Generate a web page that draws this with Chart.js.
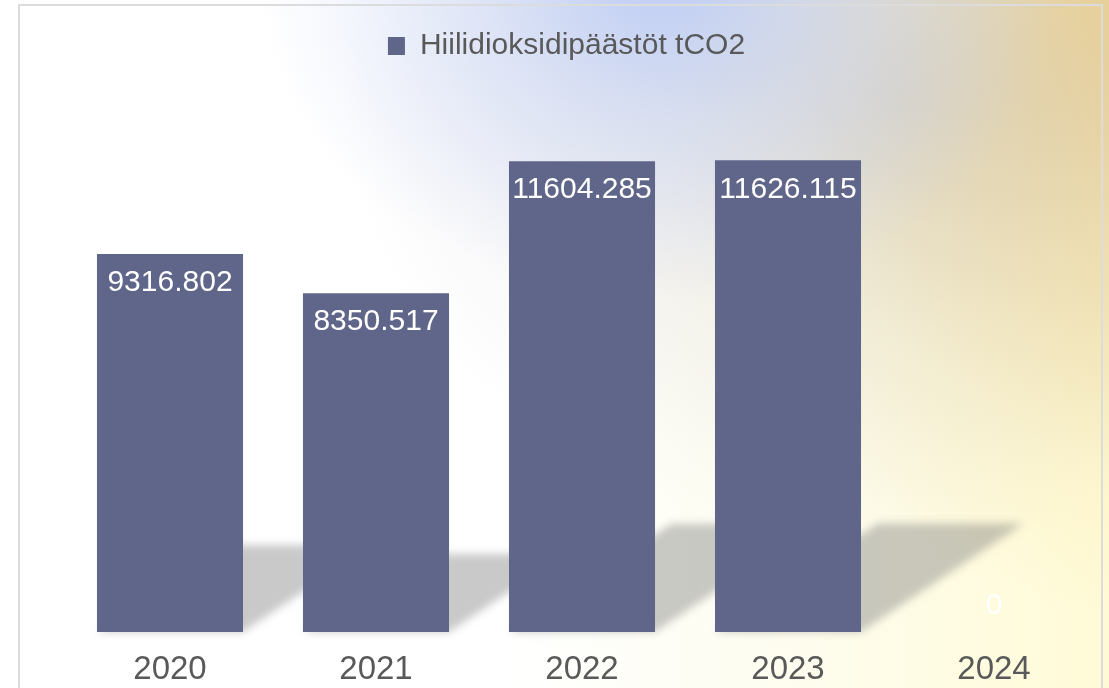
<!DOCTYPE html>
<html>
<head>
<meta charset="utf-8">
<script src="https://cdn.jsdelivr.net/npm/chart.js@4/dist/chart.umd.min.js"></script>
<style>
  html, body { margin: 0; padding: 0; }
  body {
    width: 1109px; height: 688px; overflow: hidden; position: relative;
    background:
      radial-gradient(ellipse 400px 320px at 660px -20px, rgba(188,204,245,0.95) 0%, rgba(200,212,245,0.55) 45%, rgba(210,220,245,0) 100%),
      radial-gradient(ellipse 560px 440px at 900px 100px, rgba(196,192,198,0.55) 0%, rgba(210,205,208,0.28) 50%, rgba(220,215,210,0) 100%),
      radial-gradient(ellipse 480px 620px at 1150px 0px, rgba(242,206,120,1) 0%, rgba(246,222,150,0.8) 40%, rgba(250,238,185,0.4) 75%, rgba(255,250,220,0) 100%),
      linear-gradient(to right, #ffffff 0%, #ffffff 45%, #fefdf0 70%, #fffad6 100%);
  }
  #wrap { position: absolute; left: 0; top: 0; width: 1109px; height: 688px; }
  #frame {
    position: absolute; left: 18px; top: 4px; width: 1085px; height: 720px;
    border: 2px solid #dcdcdc; box-sizing: border-box; pointer-events: none;
  }
</style>
</head>
<body>
<div id="frame"></div>
<div id="wrap"><canvas id="c" width="1109" height="688"></canvas></div>
<script>
const categories = ["2020", "2021", "2022", "2023", "2024"];
const seriesName = "Hiilidioksidipäästöt tCO2";
const values = [9316.802, 8350.517, 11604.285, 11626.115, 0];
const Y_MAX = 14000;

const BAR_COLOR = "#5f6689";
const TEXT_COLOR = "#595959";
const FONT = "'Liberation Sans', Arial, sans-serif";

const shadowPlugin = {
  id: 'perspectiveShadow',
  beforeDatasetsDraw(chart) {
    const ctx = chart.ctx;
    const meta = chart.getDatasetMeta(0);
    ctx.save();
    ctx.filter = 'blur(4px)';
    ctx.fillStyle = 'rgba(120,120,120,0.40)';
    meta.data.forEach(bar => {
      const H = bar.base - bar.y;
      if (H <= 0) return;
      const h = 0.23 * H, dx = 0.345 * H;
      const l = bar.x - bar.width / 2, r = bar.x + bar.width / 2;
      ctx.beginPath();
      ctx.moveTo(l, bar.base);
      ctx.lineTo(r, bar.base);
      ctx.lineTo(r + dx, bar.base - h);
      ctx.lineTo(l + dx, bar.base - h);
      ctx.closePath();
      ctx.fill();
    });
    ctx.restore();
  }
};

const labelPlugin = {
  id: 'valueLabels',
  afterDatasetsDraw(chart) {
    const ctx = chart.ctx;
    const meta = chart.getDatasetMeta(0);
    const data = chart.data.datasets[0].data;
    ctx.save();
    ctx.font = "30px " + FONT;
    ctx.fillStyle = "#ffffff";
    ctx.textAlign = "center";
    ctx.textBaseline = "middle";
    meta.data.forEach((bar, i) => {
      const v = data[i];
      const txt = v === 0 ? "0" : v.toFixed(3);
      const y = v === 0 ? bar.base - 26 : bar.y + 29;
      ctx.fillText(txt, bar.x, y);
    });
    ctx.restore();
  }
};

new Chart(document.getElementById('c'), {
  type: 'bar',
  data: {
    labels: categories,
    datasets: [{
      label: seriesName,
      data: values,
      backgroundColor: BAR_COLOR,
      borderWidth: 0,
      barPercentage: 0.709,
      categoryPercentage: 1.0
    }]
  },
  options: {
    responsive: false,
    animation: false,
    events: [],
    layout: { padding: { left: 36, right: 12, top: 0, bottom: 0 } },
    plugins: {
      legend: {
        position: 'top',
        align: 'center',
        maxHeight: 64,
        labels: {
          boxWidth: 17, boxHeight: 18, padding: 31,
          color: TEXT_COLOR,
          font: { family: FONT, size: 30 }
        }
      },
      tooltip: { enabled: false }
    },
    scales: {
      x: {
        grid: { display: false, drawTicks: false },
        border: { display: false },
        ticks: { color: TEXT_COLOR, font: { family: FONT, size: 33, lineHeight: 1.1 }, padding: 20 },
        afterFit(axis) { axis.height = 56; }
      },
      y: {
        min: 0, max: Y_MAX,
        grid: { display: false, drawTicks: false },
        border: { display: false },
        ticks: { display: false },
        afterFit(axis) { axis.width = 31; }
      }
    }
  },
  plugins: [shadowPlugin, labelPlugin]
});
</script>
</body>
</html>
